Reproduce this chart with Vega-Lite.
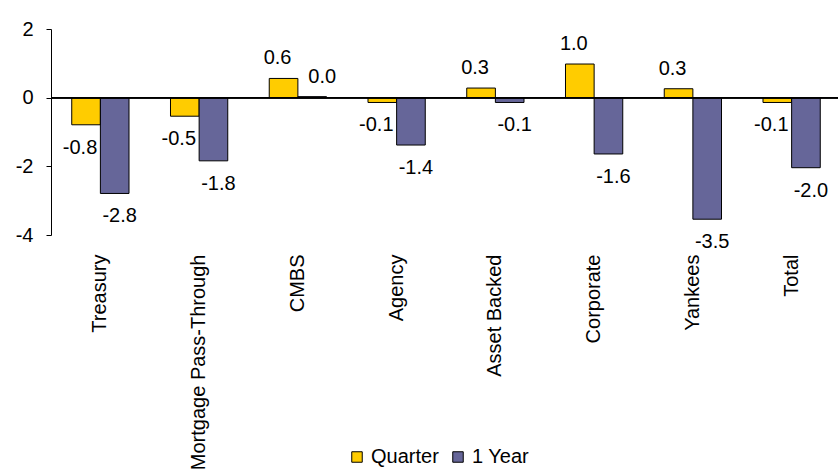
{
  "$schema": "https://vega.github.io/schema/vega-lite/v6.json",
  "autosize": "none",
  "width": 790,
  "height": 206,
  "padding": {"left": 51, "top": 29, "right": 0, "bottom": 240},
  "background": "white",
  "config": {
    "view": {"stroke": null},
    "font": "Liberation Sans",
    "axis": {"labelFont": "Liberation Sans", "labelColor": "black", "labelFontSize": 20},
    "legend": {"labelFont": "Liberation Sans", "labelColor": "black"}
  },
  "data": {
    "values": [
      {"category": "Treasury", "series": "Quarter", "value": -0.79},
      {"category": "Treasury", "series": "1 Year", "value": -2.79},
      {"category": "Mortgage Pass-Through", "series": "Quarter", "value": -0.54},
      {"category": "Mortgage Pass-Through", "series": "1 Year", "value": -1.84},
      {"category": "CMBS", "series": "Quarter", "value": 0.56},
      {"category": "CMBS", "series": "1 Year", "value": 0.03},
      {"category": "Agency", "series": "Quarter", "value": -0.14},
      {"category": "Agency", "series": "1 Year", "value": -1.38},
      {"category": "Asset Backed", "series": "Quarter", "value": 0.28},
      {"category": "Asset Backed", "series": "1 Year", "value": -0.14},
      {"category": "Corporate", "series": "Quarter", "value": 0.98},
      {"category": "Corporate", "series": "1 Year", "value": -1.64},
      {"category": "Yankees", "series": "Quarter", "value": 0.26},
      {"category": "Yankees", "series": "1 Year", "value": -3.54},
      {"category": "Total", "series": "Quarter", "value": -0.14},
      {"category": "Total", "series": "1 Year", "value": -2.04}
    ]
  },
  "transform": [
    {"calculate": "replace(format(datum.value, '.1f'), '\u2212', '-')", "as": "label"}
  ],
  "encoding": {
    "x": {
      "field": "category", "type": "nominal", "sort": null,
      "scale": {"paddingInner": 0.42, "paddingOuter": 0.21},
      "axis": {"title": null, "labelAngle": -90, "domain": false, "ticks": false, "labelPadding": 19, "labelFontSize": 20, "labelLimit": 0}
    },
    "xOffset": {
      "field": "series", "type": "nominal", "sort": ["Quarter", "1 Year"],
      "scale": {"paddingInner": 0, "paddingOuter": 0}
    },
    "y": {
      "field": "value", "type": "quantitative",
      "scale": {"domain": [-4, 2], "nice": false, "zero": true},
      "axis": {"title": null, "values": [-4, -2, 0, 2], "labelExpr": "'' + datum.value", "grid": false, "domainColor": "black", "tickColor": "black", "tickSize": 5, "labelPadding": 13, "labelFontSize": 20}
    }
  },
  "layer": [
    {
      "mark": {"type": "bar", "stroke": "black", "strokeWidth": 1},
      "encoding": {
        "color": {
          "field": "series", "type": "nominal",
          "scale": {"domain": ["Quarter", "1 Year"], "range": ["#FFCC00", "#666699"]},
          "legend": {
            "title": null, "orient": "none", "direction": "horizontal",
            "legendX": 296, "legendY": 418,
            "symbolType": "square", "symbolSize": 110,
            "symbolStrokeColor": "black", "symbolStrokeWidth": 1,
            "labelFontSize": 20, "labelOffset": 4, "columnPadding": 9
          }
        }
      }
    },
    {
      "mark": {"type": "rule", "color": "black", "strokeWidth": 1},
      "encoding": {"x": {"value": 0}, "x2": {"value": 790}, "y": {"datum": 0}, "xOffset": null}
    },
    {
      "transform": [{"filter": "datum.value >= 0 && datum.series == 'Quarter'"}],
      "mark": {"type": "text", "baseline": "alphabetic", "dy": -14, "dx": -6, "fontSize": 20, "color": "black"},
      "encoding": {"text": {"field": "label", "type": "nominal"}}
    },
    {
      "transform": [{"filter": "datum.value >= 0 && datum.series == '1 Year'"}],
      "mark": {"type": "text", "baseline": "alphabetic", "dy": -14, "dx": 10, "fontSize": 20, "color": "black"},
      "encoding": {"text": {"field": "label", "type": "nominal"}}
    },
    {
      "transform": [{"filter": "datum.value < 0 && datum.series == 'Quarter'"}],
      "mark": {"type": "text", "baseline": "top", "dy": 13, "dx": -6, "fontSize": 20, "color": "black"},
      "encoding": {"text": {"field": "label", "type": "nominal"}}
    },
    {
      "transform": [{"filter": "datum.value < 0 && datum.series == '1 Year'"}],
      "mark": {"type": "text", "baseline": "top", "dy": 13, "dx": 5, "fontSize": 20, "color": "black"},
      "encoding": {"text": {"field": "label", "type": "nominal"}}
    }
  ]
}
